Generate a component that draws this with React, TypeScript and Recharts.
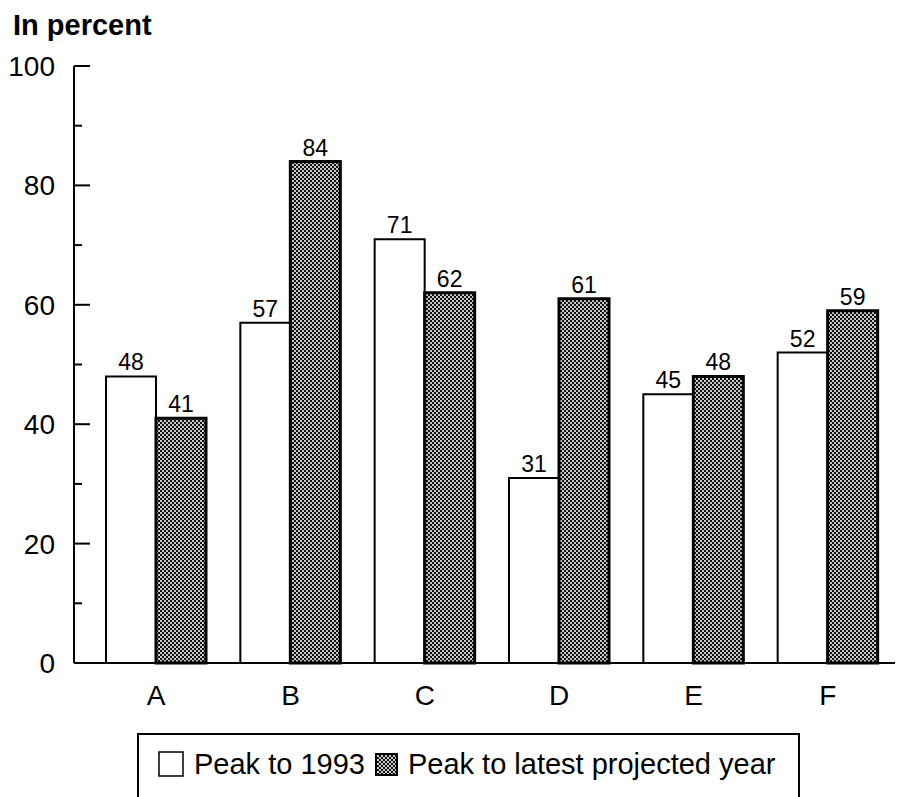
import React from 'react';
import { BarChart, Bar, XAxis, YAxis, Legend, LabelList } from 'recharts';

// values
const categories = ['A', 'B', 'C', 'D', 'E', 'F'];
const peakTo1993 = [48, 57, 71, 31, 45, 52];
const peakToLatest = [41, 84, 62, 61, 48, 59];
const yTicks = [0, 10, 20, 30, 40, 50, 60, 70, 80, 90, 100];
const seriesNames = ['Peak to 1993', 'Peak to latest projected year'];

const data = categories.map((name, i) => ({
  name,
  first: peakTo1993[i],
  latest: peakToLatest[i],
}));

const FONT = '"Liberation Sans", Arial, Helvetica, sans-serif';

// ticks point into the plot; labels only every 20
const YTick = (props: any) => {
  const { x, y, payload } = props;
  const major = payload.value % 20 === 0;
  const axisX = x + 19;
  return (
    <g>
      <line x1={axisX} x2={axisX + (major ? 16 : 8)} y1={y} y2={y} stroke="#000" strokeWidth={2} />
      {major && (
        <text x={x} y={y} dy="0.36em" textAnchor="end" fontSize={28} fill="#000" fontFamily={FONT}>
          {payload.value}
        </text>
      )}
    </g>
  );
};

const LegendBox = (props: any) => {
  const { payload = [] } = props;
  return (
    <div
      style={{
        border: '2px solid #000',
        boxSizing: 'border-box',
        width: 663,
        height: 90,
        paddingTop: 12,
        paddingLeft: 19,
        fontFamily: FONT,
        fontSize: 29,
        color: '#000',
      }}
    >
      <div style={{ display: 'flex', alignItems: 'center', height: 34, whiteSpace: 'nowrap' }}>
        {payload.map((entry: any, i: number) => (
          <React.Fragment key={entry.value}>
            <svg
              width={i === 0 ? 26 : 23}
              height={i === 0 ? 26 : 23}
              style={{ marginLeft: i === 0 ? 0 : 10, marginRight: 10 }}
            >
              <rect
                x={1}
                y={1}
                width={i === 0 ? 24 : 21}
                height={i === 0 ? 24 : 21}
                fill={entry.color}
                stroke="#000"
                strokeWidth={i === 0 ? 1.5 : 2}
              />
            </svg>
            <span>{entry.value}</span>
          </React.Fragment>
        ))}
      </div>
    </div>
  );
};

export default function App() {
  return (
    <div style={{ position: 'relative', width: 899, height: 789, overflow: 'hidden', background: '#fff' }}>
      <div
        style={{
          position: 'absolute',
          left: 5,
          top: 0,
          fontFamily: FONT,
          fontWeight: 'bold',
          fontSize: 29,
          lineHeight: 1.2,
          color: '#000',
        }}
      >
        In percent
      </div>
      <BarChart
        width={899}
        height={789}
        data={data}
        margin={{ top: 58, right: 12, bottom: 84, left: 0 }}
        barGap={0}
        barSize={50}
      >
        <defs>
          <pattern id="hatch" width="4" height="4" patternUnits="userSpaceOnUse">
            <rect width="4" height="4" fill="#111" />
            <rect x="0" y="0" width="2" height="2" fill="#c8c8c8" />
            <rect x="2" y="2" width="2" height="2" fill="#c8c8c8" />
          </pattern>
        </defs>
        <XAxis
          dataKey="name"
          height={50}
          padding={{ left: 15, right: 0 }}
          axisLine={{ stroke: '#000', strokeWidth: 2 }}
          tickLine={false}
          tickSize={0}
          tickMargin={22}
          tick={{ fontSize: 28, fill: '#000', fontFamily: FONT }}
        />
        <YAxis
          width={66}
          domain={[0, 100]}
          ticks={yTicks}
          interval={0}
          axisLine={{ stroke: '#000', strokeWidth: 2 }}
          tickLine={false}
          tickSize={0}
          tickMargin={19}
          tick={<YTick />}
        />
        <Legend
          layout="horizontal"
          verticalAlign="middle"
          align="center"
          content={<LegendBox />}
          wrapperStyle={{ left: 129, top: 725, width: 663, height: 90 }}
        />
        <Bar dataKey="first" name={seriesNames[0]} fill="#fff" stroke="#000" strokeWidth={2} isAnimationActive={false}>
          <LabelList dataKey="first" position="top" offset={6} fontSize={23} fill="#000" fontFamily={FONT} />
        </Bar>
        <Bar
          dataKey="latest"
          name={seriesNames[1]}
          fill="url(#hatch)"
          stroke="#000"
          strokeWidth={3}
          isAnimationActive={false}
        >
          <LabelList dataKey="latest" position="top" offset={6} fontSize={23} fill="#000" fontFamily={FONT} />
        </Bar>
      </BarChart>
    </div>
  );
}
